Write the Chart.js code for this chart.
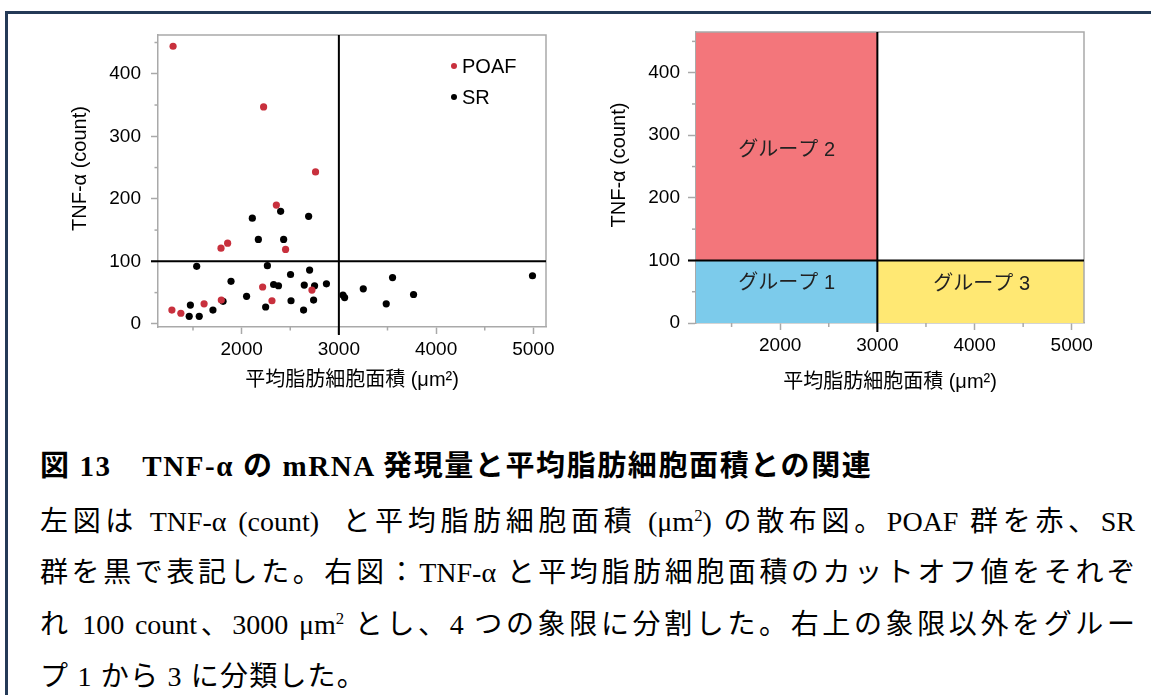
<!DOCTYPE html>
<html><head><meta charset="utf-8">
<script src="https://cdn.jsdelivr.net/npm/chart.js@4.4.1/dist/chart.umd.min.js"></script>
<style>
html,body{margin:0;padding:0;background:#fff;width:1151px;height:695px;overflow:hidden;}
#frame{position:absolute;left:5px;top:11px;width:1200px;height:800px;border-left:3px solid #243a57;border-top:3px solid #243a57;}
#c1{position:absolute;left:20px;top:20px;}
#c2{position:absolute;left:580px;top:15px;}
.cap{position:absolute;left:40px;width:1095px;font-family:'Liberation Serif','Noto Sans CJK JP',serif;color:#000;}
.t{top:451.2px;font-size:29px;letter-spacing:1.6px;font-weight:bold;line-height:30px;white-space:nowrap;}
.j{font-size:28px;line-height:51.7px;text-align:justify;text-align-last:justify;}
.l{font-size:28px;line-height:51.7px;text-align:left;letter-spacing:1.2px;}
sup{font-size:60%;line-height:0;vertical-align:super;}
</style></head>
<body>
<div id="frame"></div>
<canvas id="c1" width="545" height="380"></canvas>
<canvas id="c2" width="530" height="385"></canvas>
<div class="cap t">図 13　TNF-α の mRNA 発現量と平均脂肪細胞面積との関連</div>
<div class="cap j" style="top:495.7px">左図は TNF-α (count)&nbsp; と平均脂肪細胞面積 (μm<sup>2</sup>) の散布図。POAF 群を赤、SR</div>
<div class="cap j" style="top:547.4px">群を黒で表記した。右図：TNF-α と平均脂肪細胞面積のカットオフ値をそれぞ</div>
<div class="cap j" style="top:599.1px">れ 100 count、3000 μm<sup>2</sup> とし、4 つの象限に分割した。右上の象限以外をグルー</div>
<div class="cap l" style="top:650.8px">プ 1 から 3 に分類した。</div>
<script>
// ---------- data ----------
const poafX = [1295, 2226, 2760, 2357, 1788, 1856, 2452, 2216, 2723, 2312, 1791, 1614, 1283, 1375];
const poafY = [ 444,  347,  243,  190,  121,  129,  119,   59,   54,   37,   38,   32,   22,   17];
const srX = [2401, 2689, 2110, 2172, 2432, 1538, 2265, 2699, 2503, 1891, 2329, 2379, 2644, 2750, 2872, 3552, 4991, 3251, 3042, 3059, 3768, 3487, 2051, 2508, 2740, 1809, 2247, 2637, 1705, 1473, 1461, 1564];
const srY = [ 180,  172,  169,  135,  135,   92,   93,   86,   79,   68,   63,   61,   62,   61,   64,   74,   77,   56,   46,   42,   47,   32,   44,   37,   38,   36,   27,   22,   22,   30,   12,   12];
const seriesNames = ['POAF', 'SR'];
const xTicks = [2000, 3000, 4000, 5000];
const yTicks = [0, 100, 200, 300, 400];
const xCut = 3000;
const yCut = 100;
const xRange1 = [1140, 5130];
const yRange1 = [-5, 462];
const xRange2 = [1134, 5126];
const yRange2 = [0, 465];
const groupNames = ['グループ 1', 'グループ 2', 'グループ 3'];
const xTitle = '平均脂肪細胞面積 (μm²)';
const yTitle = 'TNF-α (count)';

// ---------- styles ----------
const FONT = "'Liberation Sans','Noto Sans CJK JP',sans-serif";
const GREY = '#a9a9a9';
const RED = '#c8303d';
const groupColors = ['#7ccbeb', '#f3767b', '#ffe873'];
const Y_TITLE_LEAD = '\u2003\u2005'; // nudges the rotated title toward the top, as in the reference

const deco = {
  id: 'deco',
  draw(chart, o) {
    const {ctx, chartArea: a, scales: {x, y}} = chart;
    ctx.save();
    ctx.strokeStyle = GREY; ctx.lineWidth = 1.5;
    ctx.beginPath(); ctx.moveTo(a.left, a.top); ctx.lineTo(a.right, a.top); ctx.lineTo(a.right, a.bottom); ctx.stroke();
    const minor = (s, horiz) => {
      const t = s.ticks.map(k => k.value);
      const step = t[1] - t[0];
      const vals = t.map(v => v - step / 2).concat([t[t.length - 1] + step / 2]);
      vals.forEach(v => {
        if (v < s.min || v > s.max) return;
        const p = s.getPixelForValue(v);
        ctx.beginPath();
        if (horiz) { ctx.moveTo(p, a.bottom); ctx.lineTo(p, a.bottom + o.minorLen); }
        else { ctx.moveTo(a.left, p); ctx.lineTo(a.left - o.minorLen, p); }
        ctx.stroke();
      });
    };
    minor(x, true); minor(y, false);
    ctx.strokeStyle = '#000'; ctx.lineWidth = 2;
    const px = x.getPixelForValue(o.xCut), py = y.getPixelForValue(o.yCut);
    ctx.beginPath();
    ctx.moveTo(px, a.top); ctx.lineTo(px, a.bottom + o.extX);
    ctx.moveTo(a.left - o.extY, py); ctx.lineTo(a.right, py);
    ctx.stroke();
    ctx.restore();
  },
  beforeDatasetsDraw(chart, args, o) { if (o.when === 'before') this.draw(chart, o); },
  afterDatasetsDraw(chart, args, o) { if (o.when === 'after') this.draw(chart, o); }
};

const legendIn = {
  id: 'legendIn',
  afterDraw(chart, args, o) {
    if (!o.show) return;
    const {ctx, chartArea: a} = chart;
    ctx.save();
    chart.data.datasets.forEach((ds, i) => {
      const cx = a.right + o.dx, cy = a.top + o.dy + i * o.gap;
      ctx.fillStyle = ds.backgroundColor;
      ctx.beginPath(); ctx.arc(cx, cy, 3, 0, Math.PI * 2); ctx.fill();
      ctx.fillStyle = '#000'; ctx.font = '20px ' + FONT; ctx.textBaseline = 'middle'; ctx.textAlign = 'left';
      ctx.fillText(ds.label, cx + 8, cy + 1);
    });
    ctx.restore();
  }
};

const groupText = {
  id: 'groupText',
  afterDatasetsDraw(chart, args, o) {
    if (!o.show) return;
    const {ctx, scales: {x, y}} = chart;
    ctx.save();
    ctx.fillStyle = '#222'; ctx.font = '20px ' + FONT; ctx.textAlign = 'center'; ctx.textBaseline = 'middle';
    chart.data.datasets.forEach((ds, i) => {
      const cx = (x.getPixelForValue(ds.data[0].x) + x.getPixelForValue(ds.data[1].x)) / 2;
      const cy = (y.getPixelForValue(ds.data[0].y) + y.getPixelForValue(ds.fill.value)) / 2;
      ctx.fillText(ds.label, cx + o.dx[i], cy + o.dy[i]);
    });
    ctx.restore();
  }
};

function axisX(range, h, pad, titlePadB) {
  return {
    type: 'linear', min: range[0], max: range[1],
    afterBuildTicks: s => { s.ticks = xTicks.map(v => ({value: v})); },
    afterFit: s => { s.height = h; s.paddingLeft = 0; s.paddingRight = 0; },
    ticks: {font: {family: FONT, size: 19}, color: '#000', padding: pad, maxRotation: 0, autoSkip: false, callback: v => String(v)},
    grid: {drawOnChartArea: false, tickLength: 7, tickColor: GREY, tickWidth: 1.5, color: GREY},
    border: {color: GREY, width: 1.5},
    title: {display: true, text: xTitle, font: {family: FONT, size: 20}, color: '#000', padding: {top: 0, bottom: titlePadB}}
  };
}
function axisY(range, w, tl, pad, titlePadT) {
  return {
    type: 'linear', min: range[0], max: range[1],
    afterBuildTicks: s => { s.ticks = yTicks.map(v => ({value: v})); },
    afterFit: s => { s.width = w; s.paddingTop = 0; s.paddingBottom = 0; },
    ticks: {font: {family: FONT, size: 19}, color: '#000', padding: pad, autoSkip: false, callback: v => String(v)},
    grid: {drawOnChartArea: false, tickLength: tl, tickColor: GREY, tickWidth: 1.5, color: GREY},
    border: {color: GREY, width: 1.5},
    title: {display: true, text: Y_TITLE_LEAD + yTitle, font: {family: FONT, size: 20}, color: '#000', padding: {top: titlePadT, bottom: 0}}
  };
}

const toPts = (xs, ys) => xs.map((v, i) => ({x: v, y: ys[i]}));

// ---------- left: scatter ----------
new Chart(document.getElementById('c1'), {
  type: 'scatter',
  data: {
    datasets: [
      {label: seriesNames[0], data: toPts(poafX, poafY), backgroundColor: RED, pointRadius: 3.6, pointBorderWidth: 0, borderWidth: 0},
      {label: seriesNames[1], data: toPts(srX, srY), backgroundColor: '#000', pointRadius: 3.6, pointBorderWidth: 0, borderWidth: 0}
    ]
  },
  plugins: [deco, legendIn],
  options: {
    responsive: false, animation: false, devicePixelRatio: 1,
    layout: {padding: {top: 15, right: 19, left: 0, bottom: 0}},
    plugins: {
      legend: {display: false}, tooltip: {enabled: false},
      legendIn: {show: true, dx: -92, dy: 31, gap: 31},
      deco: {when: 'before', xCut, yCut, extX: 8, extY: 7, minorLen: 3.5}
    },
    scales: {x: axisX(xRange1, 73, 4, 8), y: axisY(yRange1, 138, 7, 10, 48)}
  }
});

// ---------- right: groups ----------
const regions = [
  {x0: xRange2[0], x1: xCut, top: yCut, base: yRange2[0]},
  {x0: xRange2[0], x1: xCut, top: yRange2[1], base: yCut},
  {x0: xCut, x1: xRange2[1], top: yCut, base: yRange2[0]}
];
new Chart(document.getElementById('c2'), {
  type: 'scatter',
  data: {
    datasets: regions.map((r, i) => ({
      label: groupNames[i],
      data: [{x: r.x0, y: r.top}, {x: r.x1, y: r.top}],
      showLine: true, fill: {value: r.base},
      backgroundColor: groupColors[i], borderColor: 'transparent', borderWidth: 0, pointRadius: 0
    }))
  },
  plugins: [deco, groupText],
  options: {
    responsive: false, animation: false, devicePixelRatio: 1,
    layout: {padding: {top: 17, right: 26, left: 0, bottom: 0}},
    plugins: {
      legend: {display: false}, tooltip: {enabled: false},
      groupText: {show: true, dx: [0, 0, 1], dy: [-8, 4, -7]},
      deco: {when: 'after', xCut, yCut, extX: 9, extY: 8, minorLen: 4}
    },
    scales: {x: axisX(xRange2, 77, 4, 6), y: axisY(yRange2, 116, 8, 8, 27)}
  }
});
</script>
</body></html>
